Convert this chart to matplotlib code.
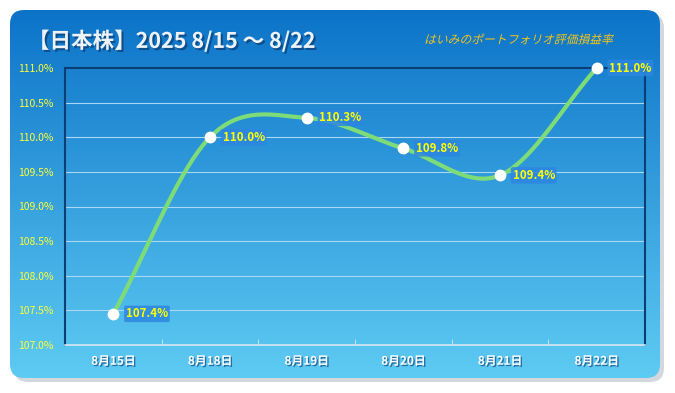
import numpy as np
import matplotlib.pyplot as plt
import matplotlib.patheffects as pe
from matplotlib.patches import FancyBboxPatch
from matplotlib.transforms import Affine2D

plt.rcParams['font.family'] = ['Noto Sans CJK JP', 'DejaVu Sans']

# data
dates = ['8月15日', '8月18日', '8月19日', '8月20日', '8月21日', '8月22日']
values = [107.45, 110.0, 110.28, 109.84, 109.45, 111.0]
labels = ['107.4%', '110.0%', '110.3%', '109.8%', '109.4%', '111.0%']
yticks = [107.0, 107.5, 108.0, 108.5, 109.0, 109.5, 110.0, 110.5, 111.0]

W, H = 675, 393


def px(x0, y0, x1, y1):
    return [x0 / W, 1 - y1 / H, (x1 - x0) / W, (y1 - y0) / H]


# catmull-rom smoothing like the excel "smoothed line"
def smooth(x, y, n=40):
    x = np.asarray(x, float)
    y = np.asarray(y, float)
    px_ = np.r_[2 * x[0] - x[1], x, 2 * x[-1] - x[-2]]
    py_ = np.r_[2 * y[0] - y[1], y, 2 * y[-1] - y[-2]]
    xs, ys = [], []
    for i in range(1, len(px_) - 2):
        t = np.linspace(0, 1, n)
        for arr, out in ((px_, xs), (py_, ys)):
            p0, p1, p2, p3 = arr[i - 1:i + 3]
            out.extend(0.5 * (2 * p1 + (-p0 + p2) * t + (2 * p0 - 5 * p1 + 4 * p2 - p3) * t ** 2
                              + (-p0 + 3 * p1 - 3 * p2 + p3) * t ** 3))
    return np.array(xs), np.array(ys)


# fake italic (the CJK font has no italic face)
class Skew(pe.AbstractPathEffect):
    def __init__(self, deg=14):
        super().__init__()
        self.deg = deg

    def draw_path(self, renderer, gc, tpath, affine, rgbFace=None):
        tx, ty = affine.transform((0, 0))
        a = affine + Affine2D().translate(-tx, -ty).skew_deg(self.deg, 0).translate(tx, ty)
        renderer.draw_path(gc, tpath, a, rgbFace)


fig = plt.figure(figsize=(W / 100, H / 100), dpi=100)
fig.patch.set_facecolor('white')

# background panel with gradient
bg = fig.add_axes([0, 0, 1, 1])
bg.set_xlim(0, W)
bg.set_ylim(H, 0)
bg.axis('off')
shadow = FancyBboxPatch((14, 14), 650, 368, boxstyle='round,pad=0,rounding_size=14',
                        fc='#c9ced6', ec='none', alpha=0.8)
bg.add_patch(shadow)
panel = FancyBboxPatch((10, 10), 650, 368, boxstyle='round,pad=0,rounding_size=14',
                       fc='none', ec='none')
bg.add_patch(panel)
grad = np.linspace(0, 1, 256).reshape(-1, 1)
c0 = np.array([12, 115, 200]) / 255
c1 = np.array([94, 203, 243]) / 255
img = c0 + (c1 - c0) * grad[..., None]
im = bg.imshow(img, extent=(10, 660, 378, 10), aspect='auto', zorder=1)
im.set_clip_path(panel)

shadow_fx = [pe.withSimplePatchShadow(offset=(1.5, -1.5), shadow_rgbFace='#0a3d70', alpha=0.7)]
bg.text(28, 41, '【日本株】2025 8/15 〜 8/22', fontsize=15.5, fontweight='bold',
        color='#eef3f8', va='center', ha='left', zorder=3, path_effects=shadow_fx)
bg.text(518, 40, 'はいみのポートフォリオ評価損益率', fontsize=8.5,
        color='#f5c518', va='center', ha='center', zorder=3, path_effects=[Skew()])

ax = fig.add_axes(px(65, 68, 645, 345))
ax.patch.set_alpha(0)
x = np.arange(len(values))
ax.set_xlim(-0.5, len(values) - 0.5)
ax.set_ylim(107.0, 111.0)

for yt in yticks[1:-1]:
    ax.axhline(yt, color='#a8d8f5', lw=0.8, zorder=1)

sx, sy = smooth(x, values)
ax.plot(sx, sy, color='#7ddc78', lw=3, solid_capstyle='round', zorder=3, clip_on=False)
ax.plot(x, values, 'o', ms=7.5, mfc='white', mec='white', zorder=4, clip_on=False)

for xi, v, lab in zip(x, values, labels):
    ax.annotate(lab, (xi, v), xytext=(9, 0), textcoords='offset points', va='center',
                ha='left', fontsize=8.3, fontweight='bold', color='#ffff00', zorder=5,
                bbox=dict(boxstyle='round,pad=0.15', fc='#2d86e0', ec='none', alpha=0.85))

for s in ['left', 'top', 'right']:
    ax.spines[s].set_color('#0b3e73')
    ax.spines[s].set_linewidth(1.5)
ax.spines['bottom'].set_color('#d8e6ef')
ax.spines['bottom'].set_linewidth(1.2)

ax.set_yticks(yticks)
ax.set_yticklabels([f'{v:.1f}%' for v in yticks])
ax.tick_params(axis='y', length=0, pad=8, labelsize=7.5, labelcolor='#ffff33')
ax.set_xticks(np.arange(len(values) + 1) - 0.5, minor=True)
ax.set_xticks(x)
ax.set_xticklabels(dates)
ax.tick_params(axis='x', which='major', length=0, pad=7, labelsize=8.5, labelcolor='white')
ax.tick_params(axis='x', which='minor', length=4, color='#d8e6ef', direction='in')
for t in ax.get_xticklabels():
    t.set_fontweight('bold')
    t.set_path_effects([pe.withSimplePatchShadow(offset=(1, -1), shadow_rgbFace='#1a5a90', alpha=0.8)])

fig.savefig('out.png', dpi=100)
